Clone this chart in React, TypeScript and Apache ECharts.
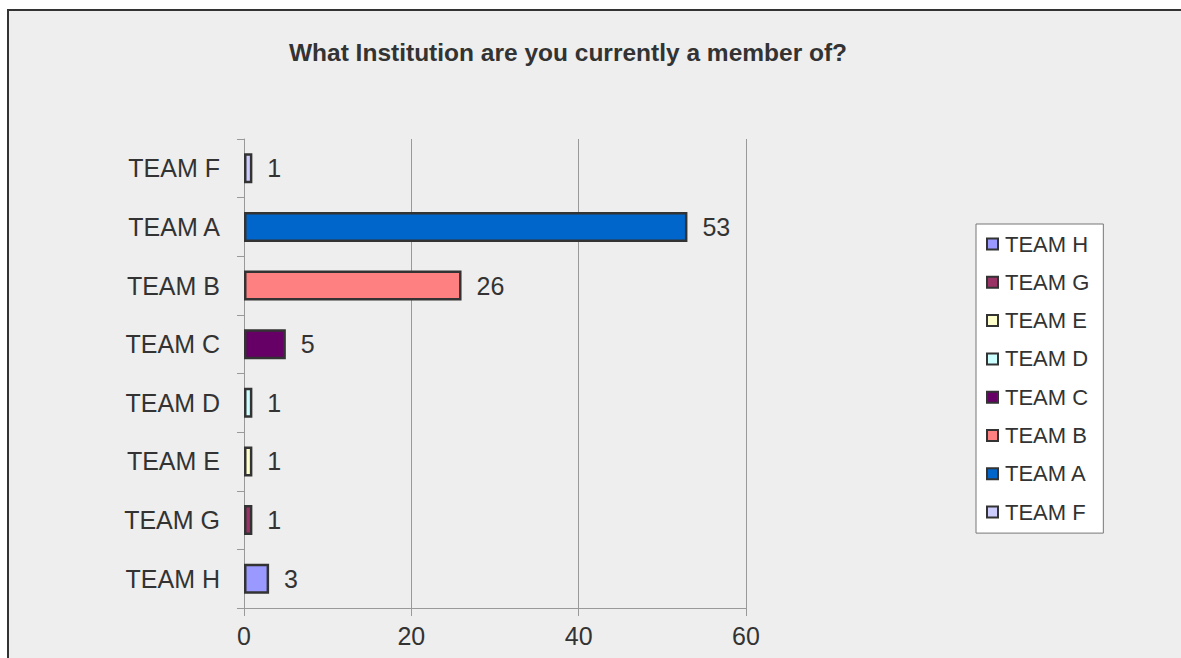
import React, { useEffect, useRef } from "react";
import * as echarts from "echarts";

const categories = ["TEAM H", "TEAM G", "TEAM E", "TEAM D", "TEAM C", "TEAM B", "TEAM A", "TEAM F"];
const values = [3, 1, 1, 1, 5, 26, 53, 1];
const colors = ["#9999ff", "#993366", "#ffffcc", "#ccffff", "#660066", "#ff8080", "#0066cc", "#ccccff"];
const xTicks = [0, 20, 40, 60];
const titleText = "What Institution are you currently a member of?";

const FONT = "'Liberation Sans', Arial, sans-serif";

export default function App() {
  const ref = useRef<HTMLDivElement>(null);
  useEffect(() => {
    if (!ref.current) return;
    const chart = echarts.init(ref.current, undefined, { renderer: "svg" });
    const series = categories.map((name, i) => ({
      name,
      type: "bar",
      stack: "all",
      barWidth: "51%",
      data: categories.map((_, j) => (j === i ? values[i] : null)),
      itemStyle: { color: colors[i], borderColor: "#333333", borderWidth: 2.5 },
      label: {
        show: true,
        position: "right",
        distance: 15,
        color: "#333333",
        fontFamily: FONT,
        fontSize: 25,
      },
    }));
    chart.setOption({
      animation: false,
      backgroundColor: "#ffffff",
      textStyle: { fontFamily: FONT },
      graphic: [
        {
          type: "rect",
          z: -100,
          shape: { x: 8, y: 10, width: 1300, height: 800 },
          style: { fill: "#eeeeee", stroke: "#333333", lineWidth: 2 },
        },
      ],
      title: {
        text: titleText,
        left: 563,
        top: 35,
        textAlign: "center",
        textStyle: { fontFamily: FONT, fontWeight: "bold", fontSize: 24.5, color: "#333333" },
      },
      grid: { left: 244, right: 435, top: 139, bottom: 50, containLabel: false },
      legend: {
        orient: "vertical",
        left: 976,
        top: 224,
        data: categories,
        backgroundColor: "#ffffff",
        borderColor: "#777777",
        borderWidth: 1,
        padding: [9, 14, 10, 10],
        itemGap: 16.3,
        itemWidth: 11,
        itemHeight: 11,
        icon: "rect",
        textStyle: { fontFamily: FONT, fontSize: 22, color: "#333333", padding: [0, 0, 0, 2] },
      },
      xAxis: {
        type: "value",
        min: 0,
        max: 60,
        interval: 20,
        axisLine: { show: true, lineStyle: { color: "#999999", width: 1 } },
        axisTick: { show: true, length: 8, lineStyle: { color: "#999999" } },
        axisLabel: { color: "#333333", fontFamily: FONT, fontSize: 25, margin: 15 },
        splitLine: { show: true, showMinLine: false, lineStyle: { color: "#999999", width: 1 } },
      },
      yAxis: {
        type: "category",
        data: categories,
        axisLine: { show: true, lineStyle: { color: "#999999", width: 1 } },
        axisTick: { show: true, length: 7, alignWithLabel: false, lineStyle: { color: "#999999" } },
        axisLabel: { color: "#333333", fontFamily: FONT, fontSize: 25, margin: 24 },
        splitLine: { show: false },
      },
      series,
    });
    return () => chart.dispose();
  }, []);
  return (
    <div
      ref={ref}
      style={{ position: "absolute", left: 0, top: 0, width: 1181, height: 658 }}
    />
  );
}
